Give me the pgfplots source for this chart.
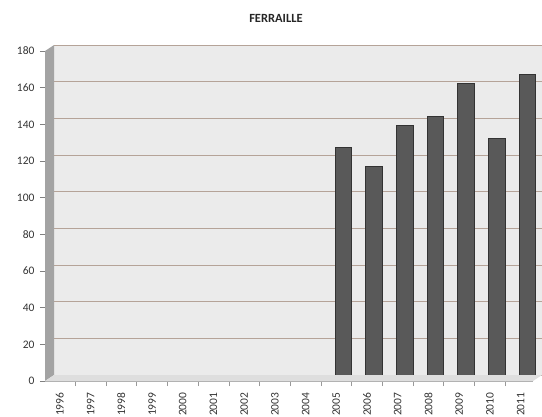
\documentclass[border=0pt]{standalone}
\usepackage{pgfplots}
\pgfplotsset{compat=1.18}
\usepackage{fontspec}
\setmainfont{Carlito}
\definecolor{wallbg}{HTML}{EBEBEB}
\definecolor{gridc}{HTML}{B5A398}
\definecolor{barc}{HTML}{595959}
\definecolor{sidewall}{HTML}{A3A3A3}
\definecolor{floorc}{HTML}{DEDEDE}
\definecolor{labc}{HTML}{333333}
\begin{document}
\begin{tikzpicture}
\useasboundingbox (0,0) rectangle (542pt,416pt);
\node[font=\bfseries\fontsize{12.5}{14}\selectfont, text=black!85] at (276pt,398pt) {FERRAILLE};
\begin{axis}[name=ax, at={(54pt,41pt)}, anchor=south west, scale only axis,
  width=488pt, height=330pt,
  xmin=-0.42, xmax=15.47, ymin=0, ymax=180,
  axis background/.style={fill=wallbg},
  axis line style={draw=none},
  ymajorgrids, grid style={gridc, line width=1pt},
  ytick={0,20,...,180},
  xtick={0,...,15},
  xticklabels={1996,1997,1998,1999,2000,2001,2002,2003,2004,2005,2006,2007,2008,2009,2010,2011},
  minor xtick={-0.5,0.5,...,15.5},
  xtick pos=bottom, ytick pos=left,
  xtick style={draw=none},
  minor x tick style={draw=black!40, line width=0.6pt, xshift=-7pt},
  minor tick length=11pt,
  ytick style={draw=black!50, line width=0.6pt, yshift=-6pt},
  tick align=outside,
  major tick length=14pt,
  /pgf/number format/assume math mode=true,
  ticklabel style={font=\fontsize{11.5}{13}\selectfont, text=labc},
  yticklabel style={yshift=-6pt},
  xticklabel style={xshift=-7pt, rotate=90, anchor=east},
  xticklabel shift=0pt,
  yticklabel shift=2pt,
  ybar, bar width=16.5pt,
  clip=false,
]
\addplot[fill=barc, draw=black!80, line width=0.9pt] coordinates {(9,124) (10,114) (11,136) (12,141) (13,159) (14,129) (15,164)};
\end{axis}
\fill[sidewall] ([shift={(-9pt,-6pt)}]ax.south west) -- (ax.south west) -- (ax.north west) -- ([shift={(-9pt,-6pt)}]ax.north west) -- cycle;
\fill[floorc] ([shift={(-9pt,-6pt)}]ax.south west) -- (ax.south west) -- (ax.south east) -- ([shift={(-9pt,-6pt)}]ax.south east) -- cycle;
\draw[black!30, line width=0.6pt] ([shift={(-9pt,-6pt)}]ax.south west) -- ([shift={(-9pt,-6pt)}]ax.south east);
\end{tikzpicture}
\end{document}
